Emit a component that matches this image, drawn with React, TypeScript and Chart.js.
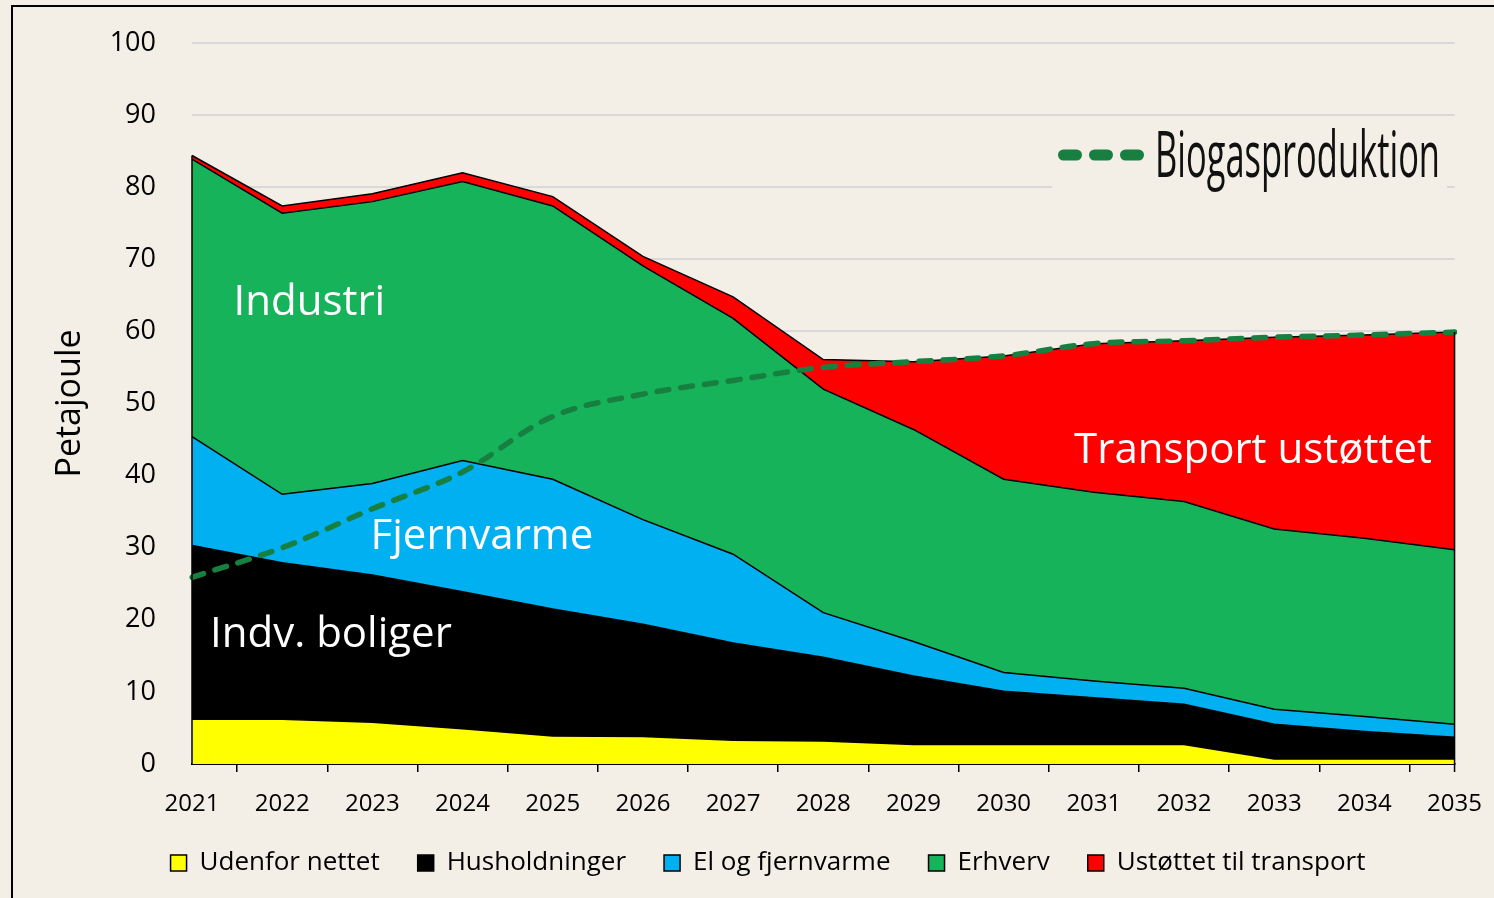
import React, { useEffect, useRef } from "react";
import { Chart, registerables } from "chart.js";

Chart.register(...registerables);

// ---------- data ----------
const years = ["2021", "2022", "2023", "2024", "2025", "2026", "2027", "2028", "2029", "2030", "2031", "2032", "2033", "2034", "2035"];
const udenforNettet = [6.2, 6.2, 5.8, 4.9, 3.9, 3.8, 3.3, 3.2, 2.7, 2.7, 2.7, 2.7, 0.7, 0.7, 0.7];
const husholdninger = [24.1, 21.7, 20.4, 19.0, 17.6, 15.6, 13.5, 11.6, 9.5, 7.4, 6.5, 5.6, 4.8, 3.8, 3.0];
const elOgFjernvarme = [15.1, 9.5, 12.7, 18.2, 18.0, 14.5, 12.3, 6.2, 4.8, 2.6, 2.3, 2.2, 2.1, 2.1, 1.8];
const erhverv = [38.5, 39.0, 39.1, 38.7, 37.9, 35.2, 32.7, 31.0, 29.4, 26.8, 26.2, 25.9, 25.0, 24.7, 24.2];
const ustoettetTransport = [0.5, 1.0, 1.1, 1.2, 1.3, 1.3, 3.0, 4.1, 9.4, 17.1, 20.6, 22.3, 26.6, 28.2, 30.2];
const biogasproduktion = [25.9, 30.0, 35.4, 40.5, 48.2, 51.3, 53.2, 55.0, 55.8, 56.6, 58.3, 58.7, 59.2, 59.5, 59.9];

const seriesNames = ["Udenfor nettet", "Husholdninger", "El og fjernvarme", "Erhverv", "Ustøttet til transport"];
const biogasName = "Biogasproduktion";
const yTitle = "Petajoule";

// in-chart area labels: [text, category index, value, align]
const areaLabels: [string, number, number, CanvasTextAlign][] = [
  ["Industri", 0.46, 63.9, "left"],
  ["Fjernvarme", 1.98, 31.5, "left"],
  ["Indv. boliger", 0.2, 17.9, "left"],
  ["Transport ustøttet", 13.75, 43.4, "right"],
];

const BG = "#f3efe6";
const FONT = "'Open Sans', 'Noto Sans', sans-serif";
const colors = ["#ffff00", "#000000", "#00b0f0", "#17b35b", "#ff0000"];
const biogasColor = "#178040";

const overlayPlugin = {
  id: "overlay",
  afterDatasetsDraw(chart: any) {
    const ctx: CanvasRenderingContext2D = chart.ctx;
    const xs = chart.scales.x;
    const ys = chart.scales.y;
    const topMeta = chart.getDatasetMeta(4);
    const base = ys.getPixelForValue(0);
    // vertical outline at first and last category
    ctx.save();
    ctx.strokeStyle = "#000";
    ctx.lineWidth = 1.5;
    const first = topMeta.data[0];
    const last = topMeta.data[topMeta.data.length - 1];
    ctx.beginPath();
    ctx.moveTo(first.x, base);
    ctx.lineTo(first.x, first.y);
    ctx.moveTo(last.x, base + 8);
    ctx.lineTo(last.x, last.y);
    ctx.stroke();
    ctx.restore();

    // area labels
    ctx.save();
    ctx.fillStyle = "#ffffff";
    ctx.font = `42px ${FONT}`;
    ctx.textBaseline = "middle";
    for (const [text, idx, val, align] of areaLabels) {
      ctx.textAlign = align;
      ctx.fillText(text, xs.getPixelForValue(idx), ys.getPixelForValue(val));
    }
    ctx.restore();
  },
  afterDraw(chart: any) {
    const ctx: CanvasRenderingContext2D = chart.ctx;
    ctx.save();
    // legend box for biogas line
    ctx.fillStyle = BG;
    ctx.fillRect(1052, 122, 395, 72);
    // dashed sample
    ctx.strokeStyle = biogasColor;
    ctx.lineWidth = 11;
    ctx.lineCap = "round";
    ctx.setLineDash([13, 18]);
    ctx.beginPath();
    ctx.moveTo(1063.5, 155);
    ctx.lineTo(1140, 155);
    ctx.stroke();
    ctx.setLineDash([]);
    // label text, condensed and tall
    ctx.fillStyle = "#111";
    ctx.font = `40px ${FONT}`;
    ctx.textAlign = "left";
    ctx.textBaseline = "alphabetic";
    const w = ctx.measureText(biogasName).width;
    ctx.translate(1155, 177);
    ctx.scale(285 / w, 1.62);
    ctx.fillText(biogasName, 0, 0);
    ctx.restore();
  },
};

export default function App() {
  const canvasRef = useRef<HTMLCanvasElement | null>(null);

  useEffect(() => {
    document.body.style.margin = "0";
    const canvas = canvasRef.current!;
    const areaData = [udenforNettet, husholdninger, elOgFjernvarme, erhverv, ustoettetTransport];
    const datasets: any[] = areaData.map((d, i) => ({
      label: seriesNames[i],
      data: d,
      backgroundColor: colors[i],
      borderColor: "#000000",
      borderWidth: 1.5,
      fill: i === 0 ? "origin" : "-1",
      pointRadius: 0,
      tension: 0,
      stack: "areas",
      order: 1,
    }));
    datasets.push({
      label: biogasName,
      data: biogasproduktion,
      borderColor: biogasColor,
      backgroundColor: biogasColor,
      borderWidth: 5.5,
      borderDash: [12, 12],
      borderCapStyle: "round",
      fill: false,
      pointRadius: 0,
      tension: 0.35,
      stack: "bio",
      order: -1,
    });

    const chart = new Chart(canvas, {
      type: "line",
      data: { labels: years, datasets },
      plugins: [overlayPlugin],
      options: {
        responsive: false,
        animation: false,
        layout: { padding: { left: 81, right: 39, top: 43, bottom: 12 } },
        plugins: {
          tooltip: { enabled: false },
          legend: {
            position: "bottom",
            labels: {
              filter: (item: any) => item.text !== biogasName,
              boxWidth: 16,
              boxHeight: 16,
              padding: 38,
              color: "#000",
              font: { family: FONT, size: 26 },
            },
          },
        },
        scales: {
          x: {
            type: "category",
            offset: false,
            afterFit: (s: any) => {
              s.height = 48;
            },
            grid: {
              drawOnChartArea: false,
              drawTicks: true,
              tickLength: 8,
              offset: true,
              color: "#000",
              lineWidth: 1.5,
            },
            border: { display: true, color: "#000", width: 2 },
            ticks: {
              color: "#000",
              padding: 12,
              maxRotation: 0,
              autoSkip: false,
              font: { family: FONT, size: 24, lineHeight: 1.7 },
            },
          },
          y: {
            stacked: true,
            min: 0,
            max: 100,
            afterFit: (s: any) => {
              s.width = 111;
            },
            grid: { color: "#d9d9d9", lineWidth: 2, drawTicks: true, tickLength: 33, tickColor: "rgba(0,0,0,0)" },
            border: { display: false },
            ticks: {
              stepSize: 10,
              padding: 3,
              color: "#000",
              font: { family: FONT, size: 27 },
            },
            title: {
              display: true,
              text: yTitle,
              color: "#000",
              padding: { top: -31, bottom: 0 },
              font: { family: FONT, size: 34 },
            },
          },
        },
      },
    });
    return () => chart.destroy();
  }, []);

  return (
    <div style={{ position: "relative", width: 1494, height: 898, background: BG, overflow: "hidden" }}>
      <div
        style={{
          position: "absolute",
          left: 11,
          top: 5,
          width: 1500,
          height: 1000,
          border: "2px solid #000",
          boxSizing: "border-box",
        }}
      />
      <canvas ref={canvasRef} width={1494} height={898} style={{ position: "absolute", left: 0, top: 0 }} />
    </div>
  );
}
